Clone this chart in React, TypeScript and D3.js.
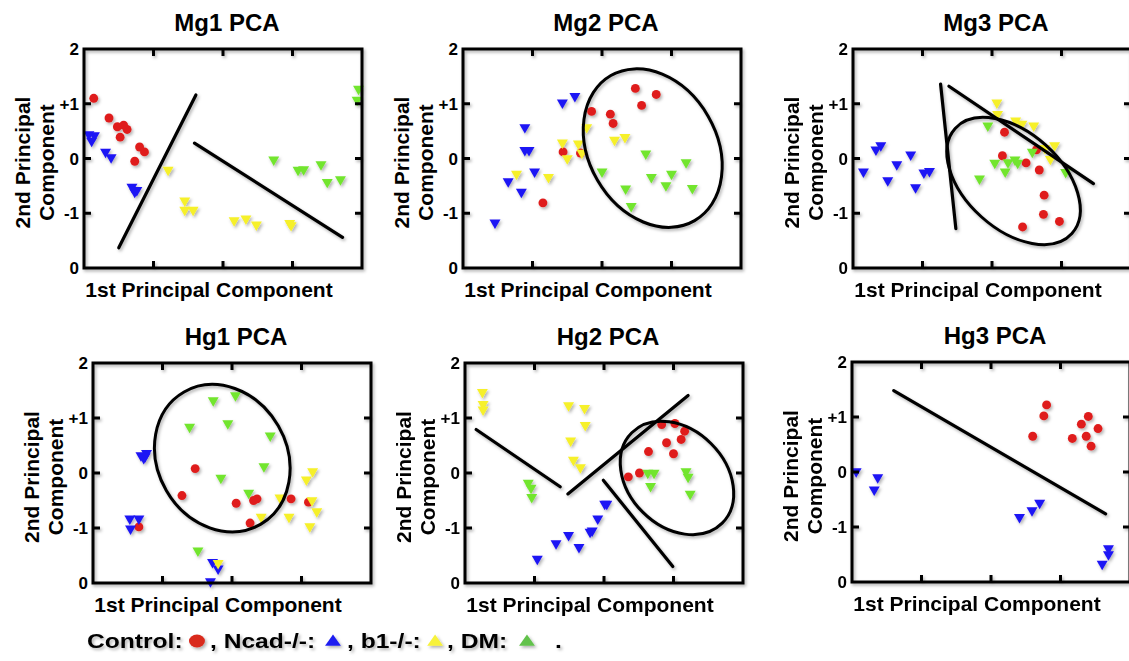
import React from 'react';
import * as d3 from 'd3';

type Pt = [number, number];
type Seg = [number, number, number, number];
type Ell = { cx: number; cy: number; rx: number; ry: number; angle: number };

// groups, marker colours
const groupNames = ['Control', 'Ncad-/-', 'b1-/-', 'DM'];
const groupColors = ['#df1f1c', '#1f14f4', '#f6f02a', '#72e52e'];
const legendColors = ['#d92a1f', '#1f1ff0', '#f7f23a', '#62c24c'];

const panelTitles = ['Mg1 PCA', 'Mg2 PCA', 'Mg3 PCA', 'Hg1 PCA', 'Hg2 PCA', 'Hg3 PCA'];
const yTicks = [-2, -1, 0, 1, 2];
const yTickLabels = ['0', '-1', '0', '+1', '2'];
const xTicks = [1, 2, 3];
const xTitle = '1st Principal Component';
const yTitleLines = ['2nd Principal', 'Component'];

// Mg1
const mg1Control: Pt[] = [[0.14, 1.1], [0.36, 0.74], [0.48, 0.58], [0.57, 0.61], [0.62, 0.53], [0.52, 0.39], [0.8, 0.21], [0.87, 0.12], [0.73, -0.05]];
const mg1Ncad: Pt[] = [[0.07, 0.44], [0.15, 0.42], [0.11, 0.32], [0.31, 0.12], [0.39, 0.02], [0.69, -0.52], [0.76, -0.58], [0.73, -0.61]];
const mg1B1: Pt[] = [[1.21, -0.21], [1.45, -0.77], [1.45, -0.94], [1.57, -0.94], [2.16, -1.13], [2.33, -1.1], [2.48, -1.21], [2.96, -1.18], [2.98, -1.22]];
const mg1Dm: Pt[] = [[2.73, -0.02], [3.08, -0.21], [3.16, -0.2], [3.41, -0.11], [3.5, -0.43], [3.69, -0.38], [3.93, 1.07], [3.95, 1.27]];
const mg1Lines: Seg[] = [[0.5, -1.63, 1.61, 1.16], [1.59, 0.28, 3.72, -1.44]];

// Mg2
const mg2Control: Pt[] = [[1.44, 0.12], [1.69, 0.1], [1.85, 0.86], [2.12, 0.81], [2.16, 0.64], [2.48, 1.28], [2.57, 0.97], [2.78, 1.17], [1.15, -0.81]];
const mg2Ncad: Pt[] = [[0.46, -1.17], [0.65, -0.42], [0.84, -0.61], [0.89, 0.57], [0.89, 0.15], [0.95, 0.15], [1.03, -0.24], [1.43, 1.02], [1.61, 1.14]];
const mg2B1: Pt[] = [[0.77, -0.28], [1.23, -0.34], [1.43, 0.29], [1.5, 0.0], [1.66, 0.27], [1.71, 0.1], [1.78, 0.57], [2.18, 0.34], [2.33, 0.39]];
const mg2Dm: Pt[] = [[2.0, -0.24], [2.34, -0.55], [2.42, -0.87], [2.63, 0.09], [2.71, -0.34], [2.92, -0.49], [3.0, -0.28], [3.21, -0.07], [3.3, -0.54]];
const mg2Ellipses: Ell[] = [{ cx: 2.73, cy: 0.19, rx: 0.92, ry: 1.53, angle: -30 }];

// Mg3
const mg3Control: Pt[] = [[2.18, 0.48], [2.15, 0.05], [2.49, -0.08], [2.68, -0.21], [2.64, 0.16], [2.75, -0.67], [2.74, -1.02], [2.97, -1.15], [2.44, -1.25]];
const mg3Ncad: Pt[] = [[0.15, -0.24], [0.33, 0.16], [0.4, 0.24], [0.5, -0.4], [0.63, -0.11], [0.83, 0.07], [0.9, -0.53], [1.02, -0.26], [1.1, -0.23]];
const mg3B1: Pt[] = [[2.07, 1.02], [2.08, 0.81], [2.34, 0.69], [2.43, 0.63], [2.6, 0.6], [2.76, 0.19], [2.9, 0.24], [2.84, -0.01]];
const mg3Dm: Pt[] = [[1.94, 0.6], [1.82, -0.37], [2.04, -0.08], [2.19, -0.24], [2.23, -0.07], [2.33, -0.02], [2.37, -0.08], [2.58, 0.12], [3.06, -0.25]];
const mg3Lines: Seg[] = [[1.26, 1.36, 1.48, -1.28], [1.38, 1.32, 3.46, -0.46]];
const mg3Ellipses: Ell[] = [{ cx: 2.31, cy: -0.41, rx: 1.13, ry: 0.88, angle: 42 }];

// Hg1
const hg1Control: Pt[] = [[0.66, -0.98], [1.28, -0.41], [1.47, 0.08], [2.06, -0.55], [2.31, -0.5], [2.36, -0.47], [2.26, -0.91], [2.85, -0.47], [3.1, -0.53]];
const hg1Ncad: Pt[] = [[0.53, -0.83], [0.66, -0.83], [0.54, -1.01], [0.69, 0.32], [0.73, 0.27], [0.77, 0.36], [0.75, 0.3], [1.72, -1.62], [1.8, -1.74], [1.69, -1.97]];
const hg1B1: Pt[] = [[1.8, -1.64], [2.69, -0.45], [2.42, -0.8], [2.82, -0.8], [3.07, -0.12], [3.16, 0.03], [3.15, -0.5], [3.22, -0.7], [3.12, -0.97]];
const hg1Dm: Pt[] = [[1.39, 0.84], [1.73, 1.32], [2.05, 1.41], [1.94, 0.9], [2.55, 0.68], [2.46, 0.12], [1.84, -0.09], [2.24, -0.36], [1.51, -1.41]];
const hg1Ellipses: Ell[] = [{ cx: 1.86, cy: 0.27, rx: 0.93, ry: 1.39, angle: -30 }];

// Hg2
const hg2Control: Pt[] = [[2.35, -0.07], [2.51, 0.0], [2.64, 0.39], [2.83, 0.88], [3.02, 0.9], [3.16, 0.76], [3.11, 0.61], [2.9, 0.55], [3.0, 0.35]];
const hg2Ncad: Pt[] = [[1.04, -1.56], [1.31, -1.28], [1.49, -1.13], [1.64, -1.35], [1.8, -1.07], [1.83, -1.05], [1.91, -0.83], [2.01, -0.56], [2.04, -0.56]];
const hg2B1: Pt[] = [[0.25, 1.47], [0.26, 1.25], [0.26, 1.15], [1.49, 1.23], [1.72, 1.18], [1.73, 0.87], [1.52, 0.59], [1.56, 0.24], [1.66, 0.1]];
const hg2Dm: Pt[] = [[0.91, -0.18], [0.95, -0.27], [0.96, -0.44], [2.63, 0.0], [2.72, 0.0], [2.67, -0.24], [3.18, 0.03], [3.21, -0.07], [3.24, -0.38]];
const hg2Lines: Seg[] = [[0.16, 0.79, 1.37, -0.25], [1.48, -0.38, 3.21, 1.41], [1.99, -0.13, 2.99, -1.7]];
const hg2Ellipses: Ell[] = [{ cx: 3.05, cy: -0.09, rx: 0.92, ry: 0.88, angle: 45 }];

// Hg3
const hg3Control: Pt[] = [[2.6, 0.65], [2.76, 1.02], [2.8, 1.22], [3.17, 0.61], [3.3, 0.87], [3.4, 1.01], [3.54, 0.79], [3.37, 0.65], [3.44, 0.47]];
const hg3Ncad: Pt[] = [[0.06, 0.01], [0.37, -0.1], [0.32, -0.32], [2.41, -0.82], [2.59, -0.7], [2.7, -0.56], [3.69, -1.39], [3.69, -1.5], [3.6, -1.67]];
const hg3Lines: Seg[] = [[0.6, 1.48, 3.65, -0.76]];

const W = 1129;
const H = 661;
const FONT = 'Liberation Sans, Arial, Helvetica, sans-serif';

// plot frames (left, top, width, height)
const boxes = [
  [84, 49, 278, 219],
  [463, 49, 278, 219],
  [853, 49, 278, 219],
  [93, 363, 278, 220],
  [465, 363, 278, 220],
  [852, 362, 278, 220],
];

const panels = [
  { series: [mg1Control, mg1Ncad, mg1B1, mg1Dm], lines: mg1Lines, ellipses: [] as Ell[] },
  { series: [mg2Control, mg2Ncad, mg2B1, mg2Dm], lines: [] as Seg[], ellipses: mg2Ellipses },
  { series: [mg3Control, mg3Ncad, mg3B1, mg3Dm], lines: mg3Lines, ellipses: mg3Ellipses },
  { series: [hg1Control, hg1Ncad, hg1B1, hg1Dm], lines: [] as Seg[], ellipses: hg1Ellipses },
  { series: [hg2Control, hg2Ncad, hg2B1, hg2Dm], lines: hg2Lines, ellipses: hg2Ellipses },
  { series: [hg3Control, hg3Ncad, [], []], lines: hg3Lines, ellipses: [] as Ell[] },
];

const dotPath = d3.symbol().type(d3.symbolCircle).size(62)() as string;
const triPath = d3.symbol().type(d3.symbolTriangle).size(52)() as string;

function Panel({ idx }: { idx: number }) {
  const [left, top, w, h] = boxes[idx];
  const p = panels[idx];
  const x = d3.scaleLinear().domain([0, 4]).range([left, left + w]);
  const y = d3.scaleLinear().domain([-2, 2]).range([top + h, top]);
  const tick = 7;
  const inner = yTicks.slice(1, -1);

  return (
    <g>
      <text x={left + w / 2 + 4} y={top - 18} textAnchor="middle" fontSize={24} fontWeight="bold">
        {panelTitles[idx]}
      </text>
      <g filter="url(#shadow)">
        {p.series.map((pts, gi) =>
          pts.map((d, i) => (
            <path
              key={`${gi}-${i}`}
              d={gi === 0 ? dotPath : triPath}
              transform={`translate(${x(d[0])},${y(d[1])})${gi === 0 ? '' : ' rotate(180)'}`}
              fill={groupColors[gi]}
            />
          ))
        )}
        {p.lines.map((s, i) => (
          <line key={i} x1={x(s[0])} y1={y(s[1])} x2={x(s[2])} y2={y(s[3])} stroke="#000" strokeWidth={3.2} strokeLinecap="round" />
        ))}
        {p.ellipses.map((e, i) => (
          <ellipse
            key={i}
            cx={0}
            cy={0}
            rx={x(e.rx) - x(0)}
            ry={y(0) - y(e.ry)}
            transform={`translate(${x(e.cx)},${y(e.cy)}) rotate(${e.angle})`}
            fill="none"
            stroke="#000"
            strokeWidth={3}
          />
        ))}
        <rect x={left} y={top} width={w} height={h} fill="none" stroke="#000" strokeWidth={3} />
        {xTicks.map((t) => (
          <g key={t}>
            <line x1={x(t)} x2={x(t)} y1={top} y2={top + tick} stroke="#000" strokeWidth={3} />
            <line x1={x(t)} x2={x(t)} y1={top + h} y2={top + h - tick} stroke="#000" strokeWidth={3} />
          </g>
        ))}
        {inner.map((t) => (
          <g key={t}>
            <line x1={left} x2={left + tick} y1={y(t)} y2={y(t)} stroke="#000" strokeWidth={3} />
            <line x1={left + w} x2={left + w - tick} y1={y(t)} y2={y(t)} stroke="#000" strokeWidth={3} />
          </g>
        ))}
      </g>
      {yTicks.map((t, i) => (
        <text key={t} x={left - 5} y={y(t)} dy="0.36em" textAnchor="end" fontSize={17} fontWeight="bold">
          {yTickLabels[i]}
        </text>
      ))}
      <text x={left + w / 2 - 14} y={top + h + 29} textAnchor="middle" fontSize={21} fontWeight="bold">
        {xTitle}
      </text>
      {yTitleLines.map((s, i) => {
        const cx = left - 62 + i * 24;
        const cy = top + h / 2 + 4;
        return (
          <text key={s} transform={`translate(${cx},${cy}) rotate(-90)`} dy="0.36em" textAnchor="middle" fontSize={21} fontWeight="bold">
            {s}
          </text>
        );
      })}
    </g>
  );
}

function Legend() {
  // laid out unstretched, then widened like the original figure
  const textX = [0, 100, 211.4, 292.7];
  const markX = [89.4, 200, 283, 357.7];
  const up = d3.symbol().type(d3.symbolTriangle).size(72)() as string;
  return (
    <g transform="translate(87,648) scale(1.23,1)" filter="url(#shadow)">
      {groupNames.map((g, i) => (
        <g key={g}>
          <text x={textX[i]} y={0} fontSize={20} fontWeight="bold">
            {i === 0 ? `${g}:` : `, ${g}:`}
          </text>
          {i === 0 ? (
            <circle cx={markX[i]} cy={-7} r={6.5} fill={legendColors[i]} />
          ) : (
            <path d={up} transform={`translate(${markX[i]},-6)`} fill={legendColors[i]} />
          )}
        </g>
      ))}
      <text x={380.5} y={0} fontSize={20} fontWeight="bold">.</text>
    </g>
  );
}

export default function App() {
  return (
    <svg width={W} height={H} style={{ position: 'absolute', left: 0, top: 0, background: '#fff' }} fontFamily={FONT}>
      <defs>
        <filter id="shadow" x="-10%" y="-10%" width="130%" height="130%">
          <feDropShadow dx={1.5} dy={2} stdDeviation={1.4} floodColor="#000" floodOpacity={0.3} />
        </filter>
      </defs>
      <rect width={W} height={H} fill="#fff" />
      {panels.map((_, i) => (
        <Panel key={i} idx={i} />
      ))}
      <Legend />
    </svg>
  );
}
